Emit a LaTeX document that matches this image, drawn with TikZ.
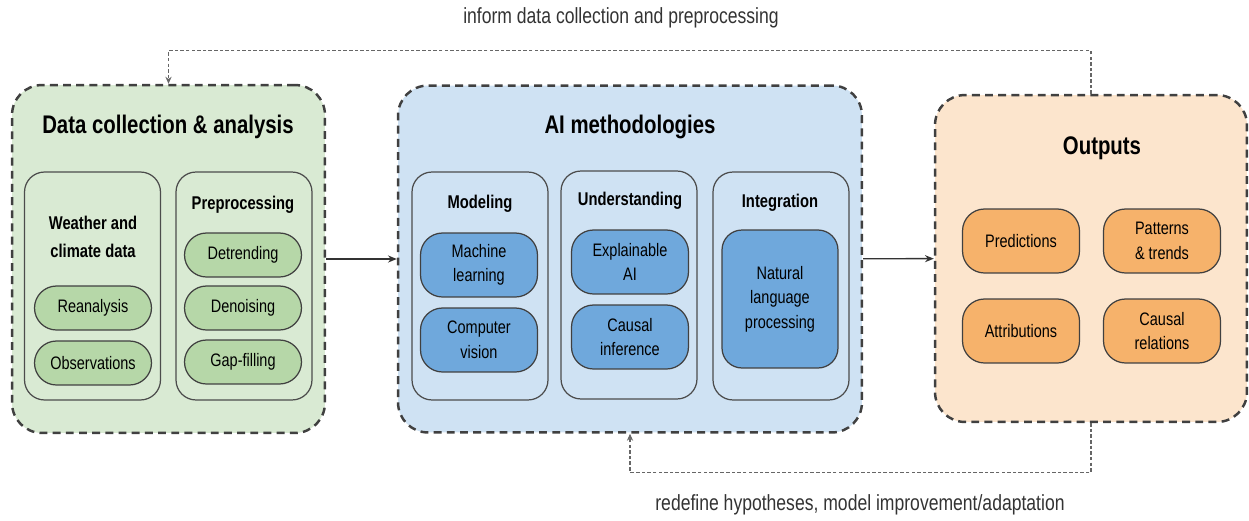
\documentclass[tikz,border=0pt]{standalone}
\usepackage{fontspec}
\setmainfont[FakeStretch=0.8]{Liberation Sans}
\usepackage{tikz}
\definecolor{greenbg}{RGB}{217, 234, 211}
\definecolor{greenpill}{RGB}{182, 215, 168}
\definecolor{bluebg}{RGB}{207, 226, 243}
\definecolor{bluepill}{RGB}{111, 168, 220}
\definecolor{orangebg}{RGB}{252, 229, 205}
\definecolor{orangepill}{RGB}{246, 178, 107}
\usetikzlibrary{arrows.meta, positioning}

\begin{document}
\begin{tikzpicture}[
    x=0.02cm, y=-0.02cm,
    groupbox/.style={draw=black!75, fill=#1, line width=1.4pt, dash pattern=on 4.5pt off 3pt,
                     rounded corners=0.6cm, inner sep=0},
    panelbox/.style={draw=black!70, line width=0.7pt, rounded corners=0.4cm,
                     minimum width=2.72cm, minimum height=4.56cm, inner sep=0},
    pillbox/.style={draw=black!75, fill=#1, line width=0.7pt, rounded corners=0.44cm,
                    minimum width=2.34cm, minimum height=0.88cm, align=center, inner sep=1pt,
                    font=\fontsize{10.3}{14}\selectfont},
    tallpill/.style={pillbox=#1, minimum height=1.28cm},
    heading/.style={font=\fontsize{14.5}{17}\selectfont\bfseries, inner sep=0},
    subheading/.style={font=\fontsize{10.5}{15.5}\selectfont\bfseries, align=center, inner sep=0},
    note/.style={font=\fontsize{12.5}{15}\selectfont, text=black!80, inner sep=0},
    flow/.style={-{Stealth[length=5pt, width=4pt]}, line width=0.8pt, draw=black!80},
    feedback/.style={-{Stealth[length=4pt, width=3.5pt]}, line width=0.6pt, draw=black!60,
                     dash pattern=on 2pt off 1.2pt}
]
    \useasboundingbox (0,0) rectangle (1249,521);

    % three main groups
    \node[groupbox=greenbg, minimum width=6.26cm, minimum height=6.96cm] (datbox) at (168.5,259) {};
    \node[groupbox=bluebg, minimum width=9.28cm, minimum height=6.94cm] (aibox) at (630,259) {};
    \node[groupbox=orangebg, minimum width=6.24cm, minimum height=6.54cm] (outbox) at (1091,258.5) {};

    \node[heading] (dattitle) at (168,127) {Data collection \& analysis};
    \node[heading] (aititle) at (630,127) {AI methodologies};
    \node[heading] (outtitle) at (1102,148) {Outputs};

    % data collection & analysis
    \node[panelbox] (wxpanel) at (92.5,286) {};
    \node[panelbox] (prepanel) at (244,286) {};
    \node[subheading] (wxhead) at (93,237) {Weather and\\climate data};
    \node[subheading] (prehead) at (243,205) {Preprocessing};
    \node[pillbox=greenpill] (rean) at (93,308) {Reanalysis};
    \node[pillbox=greenpill] (obs) at (93,363) {Observations};
    \node[pillbox=greenpill] (detr) at (243,255) {Detrending};
    \node[pillbox=greenpill] (deno) at (243,308) {Denoising};
    \node[pillbox=greenpill] (gapf) at (243,362) {Gap-filling};

    % AI methodologies
    \node[panelbox] (modpanel) at (480,286) {};
    \node[panelbox] (undpanel) at (629,285) {};
    \node[panelbox] (intpanel) at (781,286) {};
    \node[subheading] (modhead) at (480,204) {Modeling};
    \node[subheading] (undhead) at (630,201) {Understanding};
    \node[subheading] (inthead) at (780,203) {Integration};
    \node[tallpill=bluepill] (ml) at (479,265) {Machine\\learning};
    \node[tallpill=bluepill] (cv) at (479,340) {Computer\\vision};
    \node[tallpill=bluepill] (xai) at (630,262) {Explainable\\AI};
    \node[tallpill=bluepill] (ci) at (630,337) {Causal\\inference};
    \node[pillbox=bluepill, minimum width=2.32cm, minimum height=2.76cm, rounded corners=0.4cm]
        (nlp) at (780,299) {Natural\\language\\processing};

    % outputs
    \node[tallpill=orangepill] (pred) at (1021,241) {Predictions};
    \node[tallpill=orangepill] (patt) at (1162,241) {Patterns\\\& trends};
    \node[tallpill=orangepill] (attr) at (1021,331) {Attributions};
    \node[tallpill=orangepill] (crel) at (1162,331) {Causal\\relations};

    % connectors
    \draw[flow] (datbox) -- (aibox);
    \draw[flow] (aibox) -- (outbox);
    \draw[feedback] (outbox.north) -- ++(0,-43) -| (datbox.north);
    \draw[feedback] (outbox.south) -- ++(0,49) -| (aibox.south);

    \node[note] (informlbl) at (621,18) {inform data collection and preprocessing};
    \node[note] (redeflbl) at (860,505) {redefine hypotheses, model improvement/adaptation};
\end{tikzpicture}
\end{document}
